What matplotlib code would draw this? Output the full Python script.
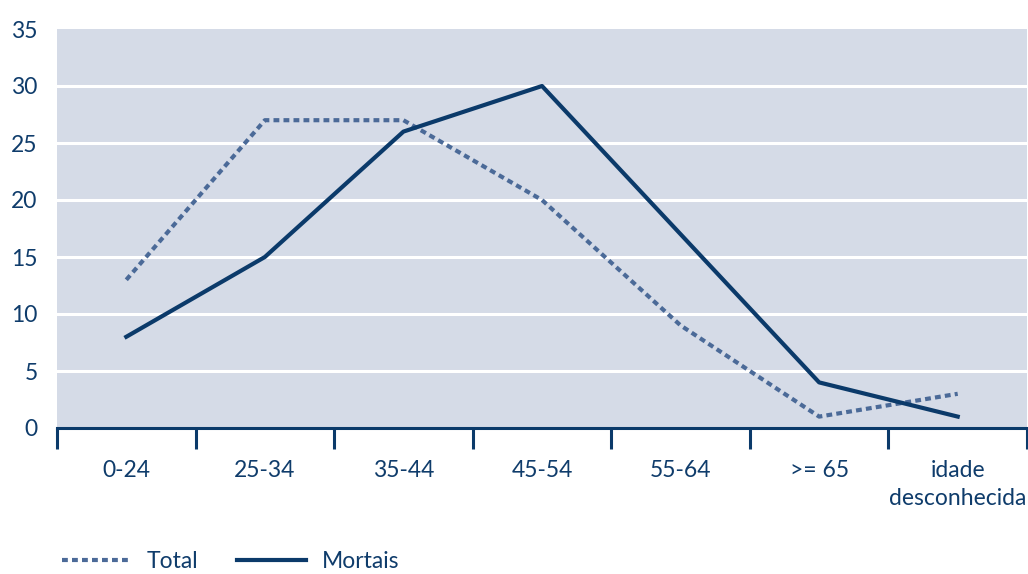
import matplotlib
matplotlib.use("Agg")
import matplotlib.pyplot as plt
from matplotlib.lines import Line2D
import numpy as np

categories = ["0-24", "25-34", "35-44", "45-54", "55-64", ">= 65", "idade\ndesconhecida"]
total = [13, 27, 27, 20, 9, 1, 3]
mortais = [8, 15, 26, 30, 17, 4, 1]
y_ticks = [0, 5, 10, 15, 20, 25, 30, 35]

DARK = "#0b3a6a"
LIGHT = "#4b6a98"
BG = "#d5dbe7"
TEXT = "#0f3c6b"
FS = 16.5

plt.rcParams["font.family"] = ["Lato", "DejaVu Sans"]

W, H = 1028, 574
fig = plt.figure(figsize=(W / 100, H / 100), dpi=100)
ax = fig.add_axes([57 / W, 1 - 428 / H, (1027 - 57) / W, (428 - 29) / H])
ax.set_facecolor(BG)

x = np.arange(len(categories))
ax.set_xlim(-0.5, len(categories) - 0.5)
ax.set_ylim(0, 35)

for yv in y_ticks[1:-1]:
    ax.axhline(yv, color="white", lw=2.2, zorder=1)

DOTS = (1.4, 1.0)
ax.plot(x, total, color=LIGHT, lw=3.0, dashes=DOTS,
        dash_capstyle="butt", zorder=3, label="Total")
ax.plot(x, mortais, color=DARK, lw=3.0, zorder=4, label="Mortais")

for s in ["top", "right", "left"]:
    ax.spines[s].set_visible(False)
ax.spines["bottom"].set_color(DARK)
ax.spines["bottom"].set_linewidth(2.2)

ax.set_xticks(x)
ax.set_xticklabels(categories, fontsize=FS, color=TEXT, linespacing=1.4)
ax.set_xticks(np.arange(-0.5, len(categories)), minor=True)
ax.tick_params(axis="x", which="major", length=0, pad=23)
ax.tick_params(axis="x", which="minor", length=15, width=2.2, color=DARK)
for lbl in ax.get_xticklabels():
    lbl.set_verticalalignment("top")

ax.set_yticks(y_ticks)
ax.set_yticklabels([str(v) for v in y_ticks], fontsize=FS, color=TEXT)
ax.tick_params(axis="y", length=0, pad=14)

handles = [
    Line2D([], [], color=LIGHT, lw=3.0, dashes=DOTS, dash_capstyle="butt"),
    Line2D([], [], color=DARK, lw=3.0),
]
leg = fig.legend(handles, ["Total", "Mortais"], loc="center left",
                 bbox_to_anchor=(62 / W, 1 - 562 / H), ncol=2, frameon=False,
                 fontsize=FS, handlelength=3.0, handletextpad=0.7,
                 columnspacing=1.7, borderpad=0, borderaxespad=0)
for t in leg.get_texts():
    t.set_color(TEXT)

fig.savefig("out.png", dpi=100)
